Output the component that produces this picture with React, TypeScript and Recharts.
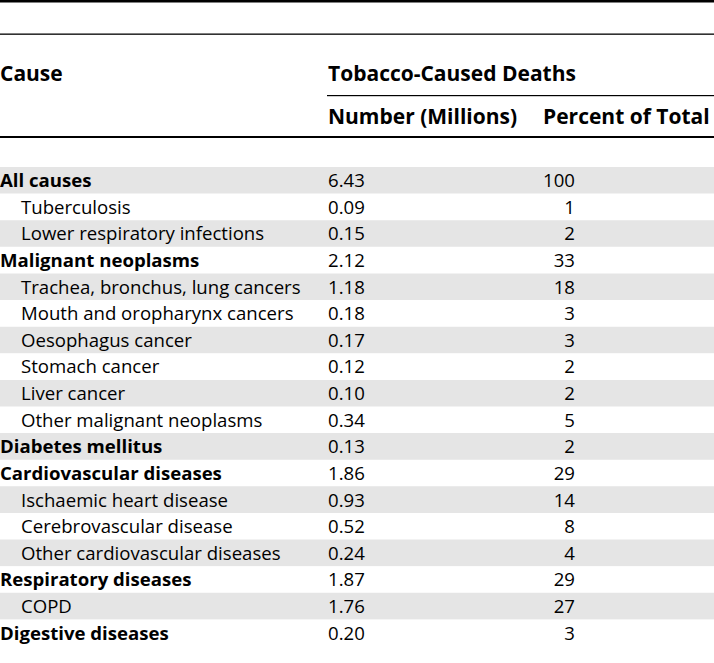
import { BarChart, Bar, XAxis, YAxis, Cell, LabelList } from 'recharts';

// table rows
const causes = [
  'All causes',
  'Tuberculosis',
  'Lower respiratory infections',
  'Malignant neoplasms',
  'Trachea, bronchus, lung cancers',
  'Mouth and oropharynx cancers',
  'Oesophagus cancer',
  'Stomach cancer',
  'Liver cancer',
  'Other malignant neoplasms',
  'Diabetes mellitus',
  'Cardiovascular diseases',
  'Ischaemic heart disease',
  'Cerebrovascular disease',
  'Other cardiovascular diseases',
  'Respiratory diseases',
  'COPD',
  'Digestive diseases',
];
const deathsMillions = [6.43, 0.09, 0.15, 2.12, 1.18, 0.18, 0.17, 0.12, 0.10, 0.34, 0.13, 1.86, 0.93, 0.52, 0.24, 1.87, 1.76, 0.20];
const percentOfTotal = [100, 1, 2, 33, 18, 3, 3, 2, 2, 5, 2, 29, 14, 8, 4, 29, 27, 3];
const isGroup = [true, false, false, true, false, false, false, false, false, false, true, true, false, false, false, true, false, true];

const W = 714;
const H = 663;
const FONT = '"Open Sans", sans-serif';
const SIZE = 18.6;
const HEAD_SIZE = 21;
const NUM_X = 328;
const PCT_X = 575;

const rows = causes.map((c, i) => ({
  cause: c,
  num: deathsMillions[i].toFixed(2),
  pct: String(percentOfTotal[i]),
  group: isGroup[i],
  band: 1,
}));

const RowText = (props: any) => {
  const { y, height, index, value, col } = props;
  const row = rows[index];
  const cy = y + height / 2;
  if (col === 'cause') {
    return (
      <text x={row.group ? 0 : 21} y={cy} dy="0.36em" fontFamily={FONT} fontSize={SIZE}
        fontWeight={row.group ? 700 : 400} fill="#000">{value}</text>
    );
  }
  if (col === 'num') {
    return <text x={NUM_X} y={cy} dy="0.36em" fontFamily={FONT} fontSize={SIZE} fill="#000">{value}</text>;
  }
  return <text x={PCT_X} y={cy} dy="0.36em" textAnchor="end" fontFamily={FONT} fontSize={SIZE} fill="#000">{value}</text>;
};

export default function App() {
  return (
    <div style={{ position: 'absolute', left: 0, top: 0, width: W, height: H, background: '#fff', overflow: 'hidden' }}>
      <BarChart width={W} height={H} data={rows} layout="vertical"
        margin={{ top: 167, right: 0, bottom: 17, left: 0 }} barCategoryGap={0}>
        <XAxis type="number" domain={[0, 1]} hide />
        <YAxis type="category" dataKey="cause" hide />
        <Bar dataKey="band" isAnimationActive={false}>
          {rows.map((r, i) => (
            <Cell key={r.cause} fill={i % 2 === 0 ? '#e5e5e5' : '#ffffff'} />
          ))}
          <LabelList dataKey="cause" content={(p: any) => <RowText {...p} col="cause" />} />
          <LabelList dataKey="num" content={(p: any) => <RowText {...p} col="num" />} />
          <LabelList dataKey="pct" content={(p: any) => <RowText {...p} col="pct" />} />
        </Bar>
      </BarChart>
      <svg width={W} height={H} style={{ position: 'absolute', left: 0, top: 0, pointerEvents: 'none' }}>
        <rect x={0} y={0} width={W} height={2.5} fill="#000" />
        <rect x={0} y={33.5} width={W} height={1.3} fill="#000" />
        <rect x={327} y={95} width={W - 327} height={1.2} fill="#000" />
        <rect x={0} y={136} width={W} height={2} fill="#000" />
        <g fontFamily={FONT} fontSize={HEAD_SIZE} fontWeight={700} fill="#000">
          <text x={0} y={81}>Cause</text>
          <text x={NUM_X} y={81}>Tobacco-Caused Deaths</text>
          <text x={NUM_X} y={124}>Number (Millions)</text>
          <text x={543} y={124}>Percent of Total</text>
        </g>
      </svg>
    </div>
  );
}
